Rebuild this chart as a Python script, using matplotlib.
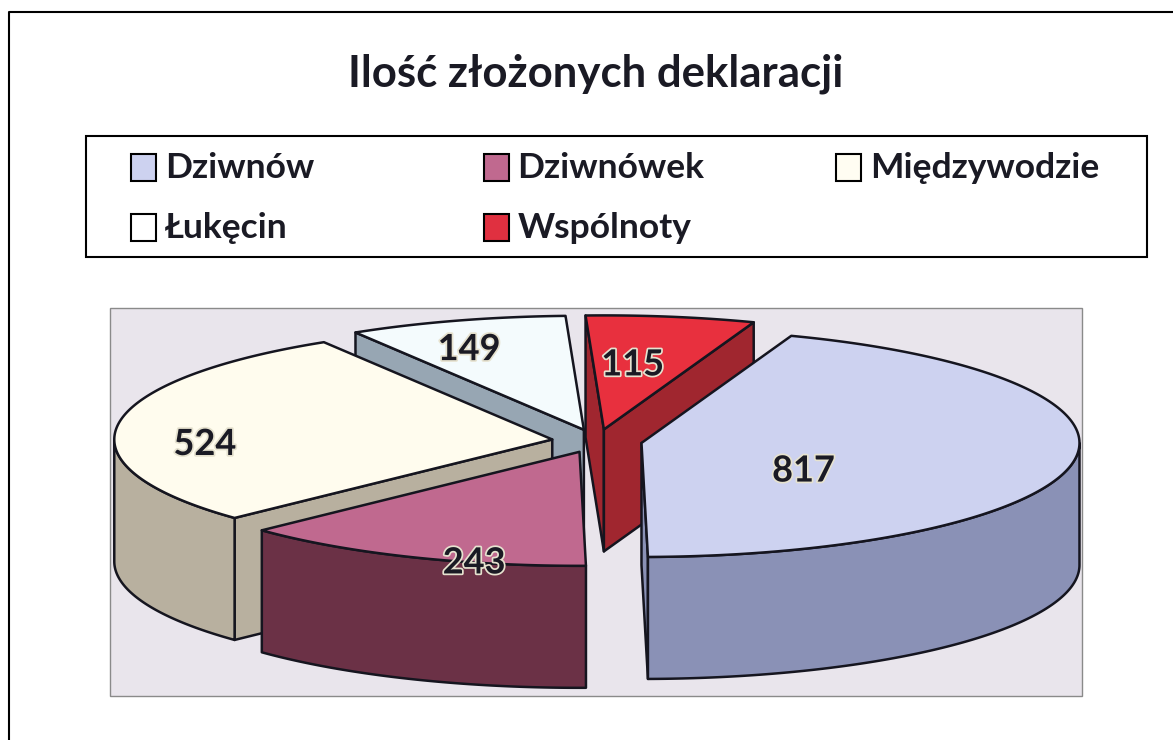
import numpy as np
import matplotlib.pyplot as plt
from matplotlib.patches import Polygon, Rectangle
import matplotlib.patheffects as pe

plt.rcParams['font.family'] = ['Lato', 'DejaVu Sans']

# data
labels = ['Dziwnów', 'Dziwnówek', 'Międzywodzie', 'Łukęcin', 'Wspólnoty']
values = [817, 243, 524, 149, 115]
title = 'Ilość złożonych deklaracji'

top_colors = ['#cdd2f0', '#c0698f', '#fffcee', '#f4fbfd', '#e8303e']
wall_colors = ['#8a91b6', '#6b3146', '#b8b09f', '#97a6b3', '#a0262f']
legend_colors = ['#cdd2f0', '#c0698f', '#fffdf2', '#ffffff', '#e03040']

# layout in pixels (y goes down)
W, H = 1173, 740
cx, cy = 597, 441
ra, rb = 438, 114
depth = 122
explode = 0.103
start = 20.0
label_r = [0.375, 0.62, 0.8, 0.9, 0.43]
label_dy = [21, 46, 17, 18, -16]
edge = '#15151f'
lw = 1.8


def pts(c, ang, r=1.0):
    t = np.radians(np.atleast_1d(ang))
    return np.column_stack([c[0] + ra * r * np.sin(t), c[1] - rb * r * np.cos(t)])


fig = plt.figure(figsize=(W / 100, H / 100), dpi=100)
ax = fig.add_axes([0, 0, 1, 1])
ax.set_xlim(0, W)
ax.set_ylim(H, 0)
ax.axis('off')

# outer frame (only left and top visible)
ax.plot([9, 9, W + 5], [H + 5, 12, 12], color='black', lw=1.5)

# title
ax.text(596, 86, title, ha='center', va='baseline', fontsize=31.5, fontweight='bold', color='#1a1a24')

# legend
ax.add_patch(Rectangle((86, 136), 1061, 121, fc='white', ec='black', lw=1.5))
for i, lab in enumerate(labels):
    row, col = i // 3, i % 3
    x = 131 + 352.5 * col
    y = 167 + 60 * row
    ax.add_patch(Rectangle((x, y - 13), 25, 27, fc=legend_colors[i], ec='black', lw=1.5))
    ax.text(x + 34, y + 11, lab, ha='left', va='baseline', fontsize=25.5, fontweight='bold', color='#1a1a24')

# plot area
ax.add_patch(Rectangle((110, 308), 972, 388, fc='#e9e5ec', ec='#8a8a8a', lw=1))

# pie geometry
vals = np.array(values, dtype=float)
spans = vals / vals.sum() * 360
starts = start + np.cumsum(spans) - spans
ends = starts + spans
mids = starts + spans / 2

centers = []
for m in mids:
    t = np.radians(m)
    centers.append((cx + explode * ra * np.sin(t), cy - explode * rb * np.cos(t)))

order = np.argsort(-np.cos(np.radians(mids)))
down = np.array([0, depth])

for i in order:
    c = np.array(centers[i])
    s, e = starts[i], ends[i]
    # radial faces
    for ang, normal in [(s, s - 90), (e, e + 90)]:
        if -np.cos(np.radians(normal)) > 0:
            p = pts(c, ang)[0]
            face = np.array([c, p, p + down, c + down])
            ax.add_patch(Polygon(face, closed=True, fc=wall_colors[i], ec=edge, lw=lw, joinstyle='round'))
    # outer curved wall (front half)
    for lo_f, hi_f in [(90, 270), (450, 630)]:
        lo, hi = max(s, lo_f), min(e, hi_f)
        if hi > lo:
            th = np.linspace(lo, hi, 120)
            top = pts(c, th)
            wall = np.vstack([top, (top + down)[::-1]])
            ax.add_patch(Polygon(wall, closed=True, fc=wall_colors[i], ec=edge, lw=lw, joinstyle='round'))
    # top face
    th = np.linspace(s, e, 200)
    topface = np.vstack([c, pts(c, th)])
    ax.add_patch(Polygon(topface, closed=True, fc=top_colors[i], ec=edge, lw=lw, joinstyle='round'))

# data labels
for i in range(len(values)):
    c = np.array(centers[i])
    p = pts(c, mids[i], label_r[i])[0]
    ax.text(p[0], p[1] + label_dy[i], str(values[i]), ha='center', va='center', fontsize=26,
            fontweight='bold', color='#1a1a24',
            path_effects=[pe.withStroke(linewidth=2.5, foreground='#e6e2cf')])

fig.savefig('out.png', dpi=100)
